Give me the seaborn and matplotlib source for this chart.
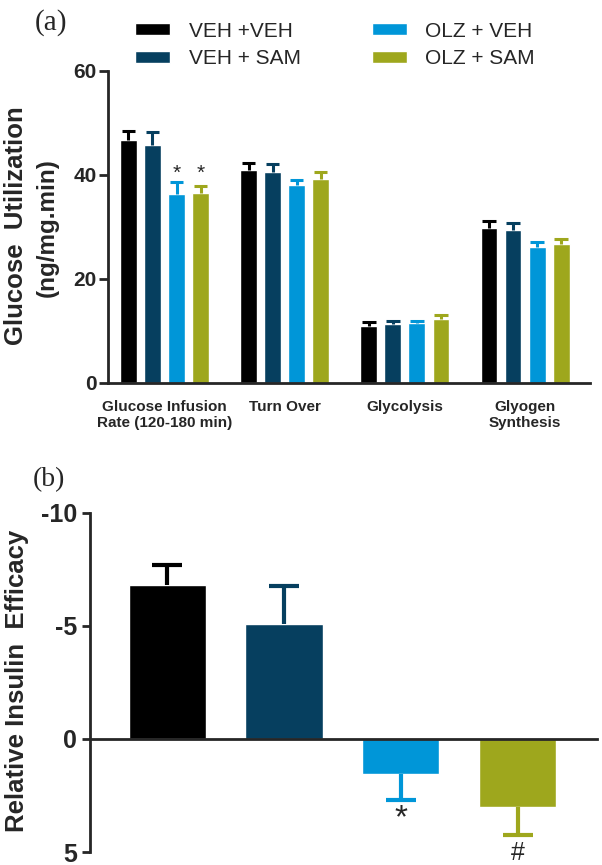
import numpy as np
import pandas as pd
import matplotlib
matplotlib.use("Agg")
import matplotlib.pyplot as plt
import seaborn as sns

# groups and colours
groups = ["VEH +VEH", "VEH + SAM", "OLZ + VEH", "OLZ + SAM"]
colors = ["#000000", "#063f5f", "#0096d8", "#9ea71d"]

# panel (a): glucose utilization
measures = ["Glucose Infusion\nRate (120-180 min)", "Turn Over", "Glycolysis", "Glyogen\nSynthesis"]
veh_veh = [46.8, 40.9, 11.0, 29.8]
veh_sam = [45.8, 40.5, 11.3, 29.4]
olz_veh = [36.4, 38.0, 11.6, 26.2]
olz_sam = [36.5, 39.3, 12.3, 26.8]
veh_veh_err = [1.6, 1.5, 0.7, 1.4]
veh_sam_err = [2.4, 1.6, 0.6, 1.3]
olz_veh_err = [2.3, 1.1, 0.4, 1.0]
olz_sam_err = [1.3, 1.2, 0.8, 0.8]

# panel (b): relative insulin efficacy
efficacy = [-6.8, -5.1, 1.55, 3.0]
efficacy_err = [0.9, 1.65, 1.15, 1.25]
efficacy_marks = ["", "", "*", "#"]

sns.set_style("ticks")
plt.rcParams["font.family"] = ["Liberation Sans", "DejaVu Sans"]
plt.rcParams["axes.unicode_minus"] = False
plt.rcParams["axes.linewidth"] = 2

serif = ["Liberation Serif", "DejaVu Serif"]


def one_sided_err(ax, xs, ys, errs, width, col, lw):
    # stem from the bar end outwards, with a cap only at the far end
    xs = np.asarray(xs)
    ys = np.asarray(ys)
    errs = np.asarray(errs) * np.sign(ys)
    ax.vlines(xs, ys, ys + errs, color=col, lw=lw, zorder=3)
    ax.hlines(ys + errs, xs - width / 2, xs + width / 2, color=col, lw=lw, zorder=3)


fig = plt.figure(figsize=(6.02, 8.65), dpi=100)

# ---------- panel (a) ----------
ax = fig.add_axes([108 / 602, 1 - 383 / 865, 482 / 602, 312 / 865])
series = [veh_veh, veh_sam, olz_veh, olz_sam]
errs = [veh_veh_err, veh_sam_err, olz_veh_err, olz_sam_err]
rows = []
for g, vals in zip(groups, series):
    for m, v in zip(measures, vals):
        rows.append({"measure": m, "group": g, "value": v})
df_a = pd.DataFrame(rows)

sns.barplot(data=df_a, x="measure", y="value", hue="group", hue_order=groups,
            palette=colors, width=0.8, gap=0.3, errorbar=None, saturation=1, ax=ax)

tops = []
for cont, err, col in zip(ax.containers, errs, colors):
    xs = [p.get_x() + p.get_width() / 2 for p in cont]
    ys = [p.get_height() for p in cont]
    one_sided_err(ax, xs, ys, err, cont[0].get_width() * 0.8, col, 2.2)
    tops.append((xs, ys))

# significance stars on the GIR group
star_y = max(tops[2][1][0] + olz_veh_err[0], tops[3][1][0] + olz_sam_err[0]) + 1.6
for k in (2, 3):
    ax.text(tops[k][0][0], star_y, "*", ha="center", va="center", fontsize=15)

handles, labels = ax.get_legend_handles_labels()
ax.get_legend().remove()
fig.legend(handles, labels, loc="upper left", bbox_to_anchor=(135 / 602, 0.975),
           ncol=2, frameon=False, fontsize=15, handlelength=1.68, handleheight=0.5,
           handletextpad=0.9, columnspacing=3.4, labelspacing=0.4, borderpad=0,
           borderaxespad=0)

ax.set_xlim(-0.47, 3.54)
ax.set_ylim(0, 60)
ax.set_yticks([0, 20, 40, 60])
ax.set_xlabel("")
ax.set_ylabel("")
ax.tick_params(axis="y", length=6.5, width=2, labelsize=15, pad=1.5)
ax.tick_params(axis="x", length=0, labelsize=11, pad=12)
for t in ax.get_yticklabels() + ax.get_xticklabels():
    t.set_fontweight("bold")
sns.despine(ax=ax)

fig.text(16 / 602, 1 - 226 / 865, "Glucose  Utilization", rotation=90, ha="center",
         va="center", fontsize=18.5, fontweight="bold")
fig.text(47 / 602, 1 - 228 / 865, "(ng/mg.min)", rotation=90, ha="center",
         va="center", fontsize=17.5, fontweight="bold")

# ---------- panel (b) ----------
axb = fig.add_axes([0.1495, 0.015, 0.8425, 0.392])
df_b = pd.DataFrame({"group": groups, "value": efficacy})
sns.barplot(data=df_b, x="group", y="value", hue="group", hue_order=groups,
            palette=colors, width=0.66, errorbar=None, saturation=1, legend=False, ax=axb)

for p, v, e, col, mark in zip(axb.patches, efficacy, efficacy_err, colors, efficacy_marks):
    x = p.get_x() + p.get_width() / 2
    one_sided_err(axb, [x], [v], [e], p.get_width() * 0.39, col, 3)
    if mark == "*":
        axb.text(x, v + e + 0.85, mark, ha="center", va="center", fontsize=24)
    elif mark == "#":
        axb.text(x, v + e + 0.8, mark, ha="center", va="center", fontsize=18)

axb.set_xlim(-0.66, 3.68)
axb.set_ylim(5, -10)
axb.set_yticks([-10, -5, 0, 5])
axb.set_xticks([])
axb.set_xlabel("")
axb.set_ylabel("")
axb.tick_params(axis="y", length=6, width=2, labelsize=18)
for t in axb.get_yticklabels():
    t.set_fontweight("bold")
sns.despine(ax=axb)
axb.spines["bottom"].set_position(("data", 0))

fig.text(17 / 602, 1 - 681 / 865, "Relative Insulin  Efficacy", rotation=90, ha="center",
         va="center", fontsize=18.5, fontweight="bold")

fig.text(35 / 602, 1 - 23 / 865, "(a)", family=serif, fontsize=21, ha="left", va="center")
fig.text(33 / 602, 1 - 480 / 865, "(b)", family=serif, fontsize=20, ha="left", va="center")

fig.savefig("out.png", dpi=100)
